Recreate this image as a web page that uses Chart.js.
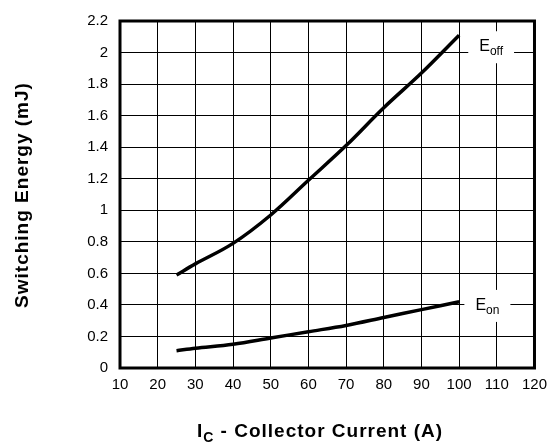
<!DOCTYPE html>
<html>
<head>
<meta charset="utf-8">
<script src="https://cdn.jsdelivr.net/npm/chart.js@4/dist/chart.umd.min.js"></script>
<style>
  html, body { margin: 0; padding: 0; background: #fff; }
  #wrap { width: 555px; height: 447px; }
</style>
</head>
<body>
<div id="wrap"><canvas id="energyChart"></canvas></div>
<script>
// collector current (A)
const current = [25, 30, 40, 50, 60, 70, 80, 90, 100];
// switching energy (mJ)
const eOff = [0.59, 0.66, 0.79, 0.97, 1.19, 1.41, 1.65, 1.87, 2.11];
const eOn = [0.11, 0.125, 0.15, 0.19, 0.23, 0.27, 0.32, 0.37, 0.42];
// curve labels: [x, y, subscript]
const curveLabels = [
  [108.5, 2.04, 'off'],
  [107.5, 0.40, 'on']
];

const FONT = '"Liberation Sans", Arial, Helvetica, sans-serif';

const toPoints = ys => current.map((x, i) => ({ x, y: ys[i] }));

// frame, labels and axis titles (x title needs a subscript)
const extras = {
  id: 'extras',
  afterDatasetsDraw(chart) {
    const { ctx, chartArea: a, scales: { x, y } } = chart;
    ctx.save();
    ctx.strokeStyle = '#000';
    ctx.lineWidth = 3;
    ctx.strokeRect(a.left, a.top, a.right - a.left, a.bottom - a.top);

    curveLabels.forEach(([vx, vy, sub]) => {
      const px = x.getPixelForValue(vx);
      const py = y.getPixelForValue(vy);
      ctx.font = '16px ' + FONT;
      const wE = ctx.measureText('E').width;
      ctx.font = '12px ' + FONT;
      const wS = ctx.measureText(sub).width;
      const w = wE + wS;
      ctx.fillStyle = '#fff';
      ctx.fillRect(px - w / 2 - 11, py - 15, w + 22, 32);
      ctx.fillStyle = '#000';
      ctx.textBaseline = 'alphabetic';
      ctx.textAlign = 'left';
      ctx.font = '16px ' + FONT;
      ctx.fillText('E', px - w / 2, py + 5);
      ctx.font = '12px ' + FONT;
      ctx.fillText(sub, px - w / 2 + wE, py + 9);
    });

    ctx.letterSpacing = '1px';
    // x axis title
    const main = ' - Collector Current (A)';
    ctx.font = 'bold 19px ' + FONT;
    const wI = ctx.measureText('I').width;
    const wM = ctx.measureText(main).width;
    ctx.font = 'bold 14px ' + FONT;
    const wC = ctx.measureText('C').width;
    const total = wI + wC + wM;
    const sx = 320 - total / 2;
    const by = 437;
    ctx.font = 'bold 19px ' + FONT;
    ctx.fillText('I', sx, by);
    ctx.font = 'bold 14px ' + FONT;
    ctx.fillText('C', sx + wI, by + 5);
    ctx.font = 'bold 19px ' + FONT;
    ctx.fillText(main, sx + wI + wC, by);

    // y axis title
    ctx.translate(28, 195);
    ctx.rotate(-Math.PI / 2);
    ctx.textAlign = 'center';
    ctx.fillText('Switching Energy (mJ)', 0, 0);
    ctx.restore();
  }
};

new Chart(document.getElementById('energyChart'), {
  type: 'line',
  data: {
    datasets: [
      { label: 'Eoff', data: toPoints(eOff) },
      { label: 'Eon', data: toPoints(eOn) }
    ]
  },
  options: {
    responsive: true,
    maintainAspectRatio: false,
    animation: false,
    layout: { padding: { top: 15, right: 20, left: 0, bottom: 0 } },
    elements: {
      line: { borderColor: '#000', borderWidth: 3.5, tension: 0.35, fill: false },
      point: { radius: 0 }
    },
    plugins: {
      legend: { display: false },
      tooltip: { enabled: false }
    },
    scales: {
      x: {
        type: 'linear',
        min: 10,
        max: 120,
        afterFit: s => { s.height = 79; },
        ticks: { stepSize: 10, color: '#000', padding: 8, font: { family: FONT, size: 15 } },
        grid: { color: '#000', lineWidth: 1, drawTicks: false },
        border: { display: false }
      },
      y: {
        min: 0,
        max: 2.2,
        afterFit: s => { s.width = 120; },
        ticks: {
          stepSize: 0.2,
          color: '#000',
          padding: 12,
          font: { family: FONT, size: 15 },
          callback: v => String(Math.round(v * 10) / 10)
        },
        grid: { color: '#000', lineWidth: 1, drawTicks: false },
        border: { display: false }
      }
    }
  },
  plugins: [extras]
});
</script>
</body>
</html>
